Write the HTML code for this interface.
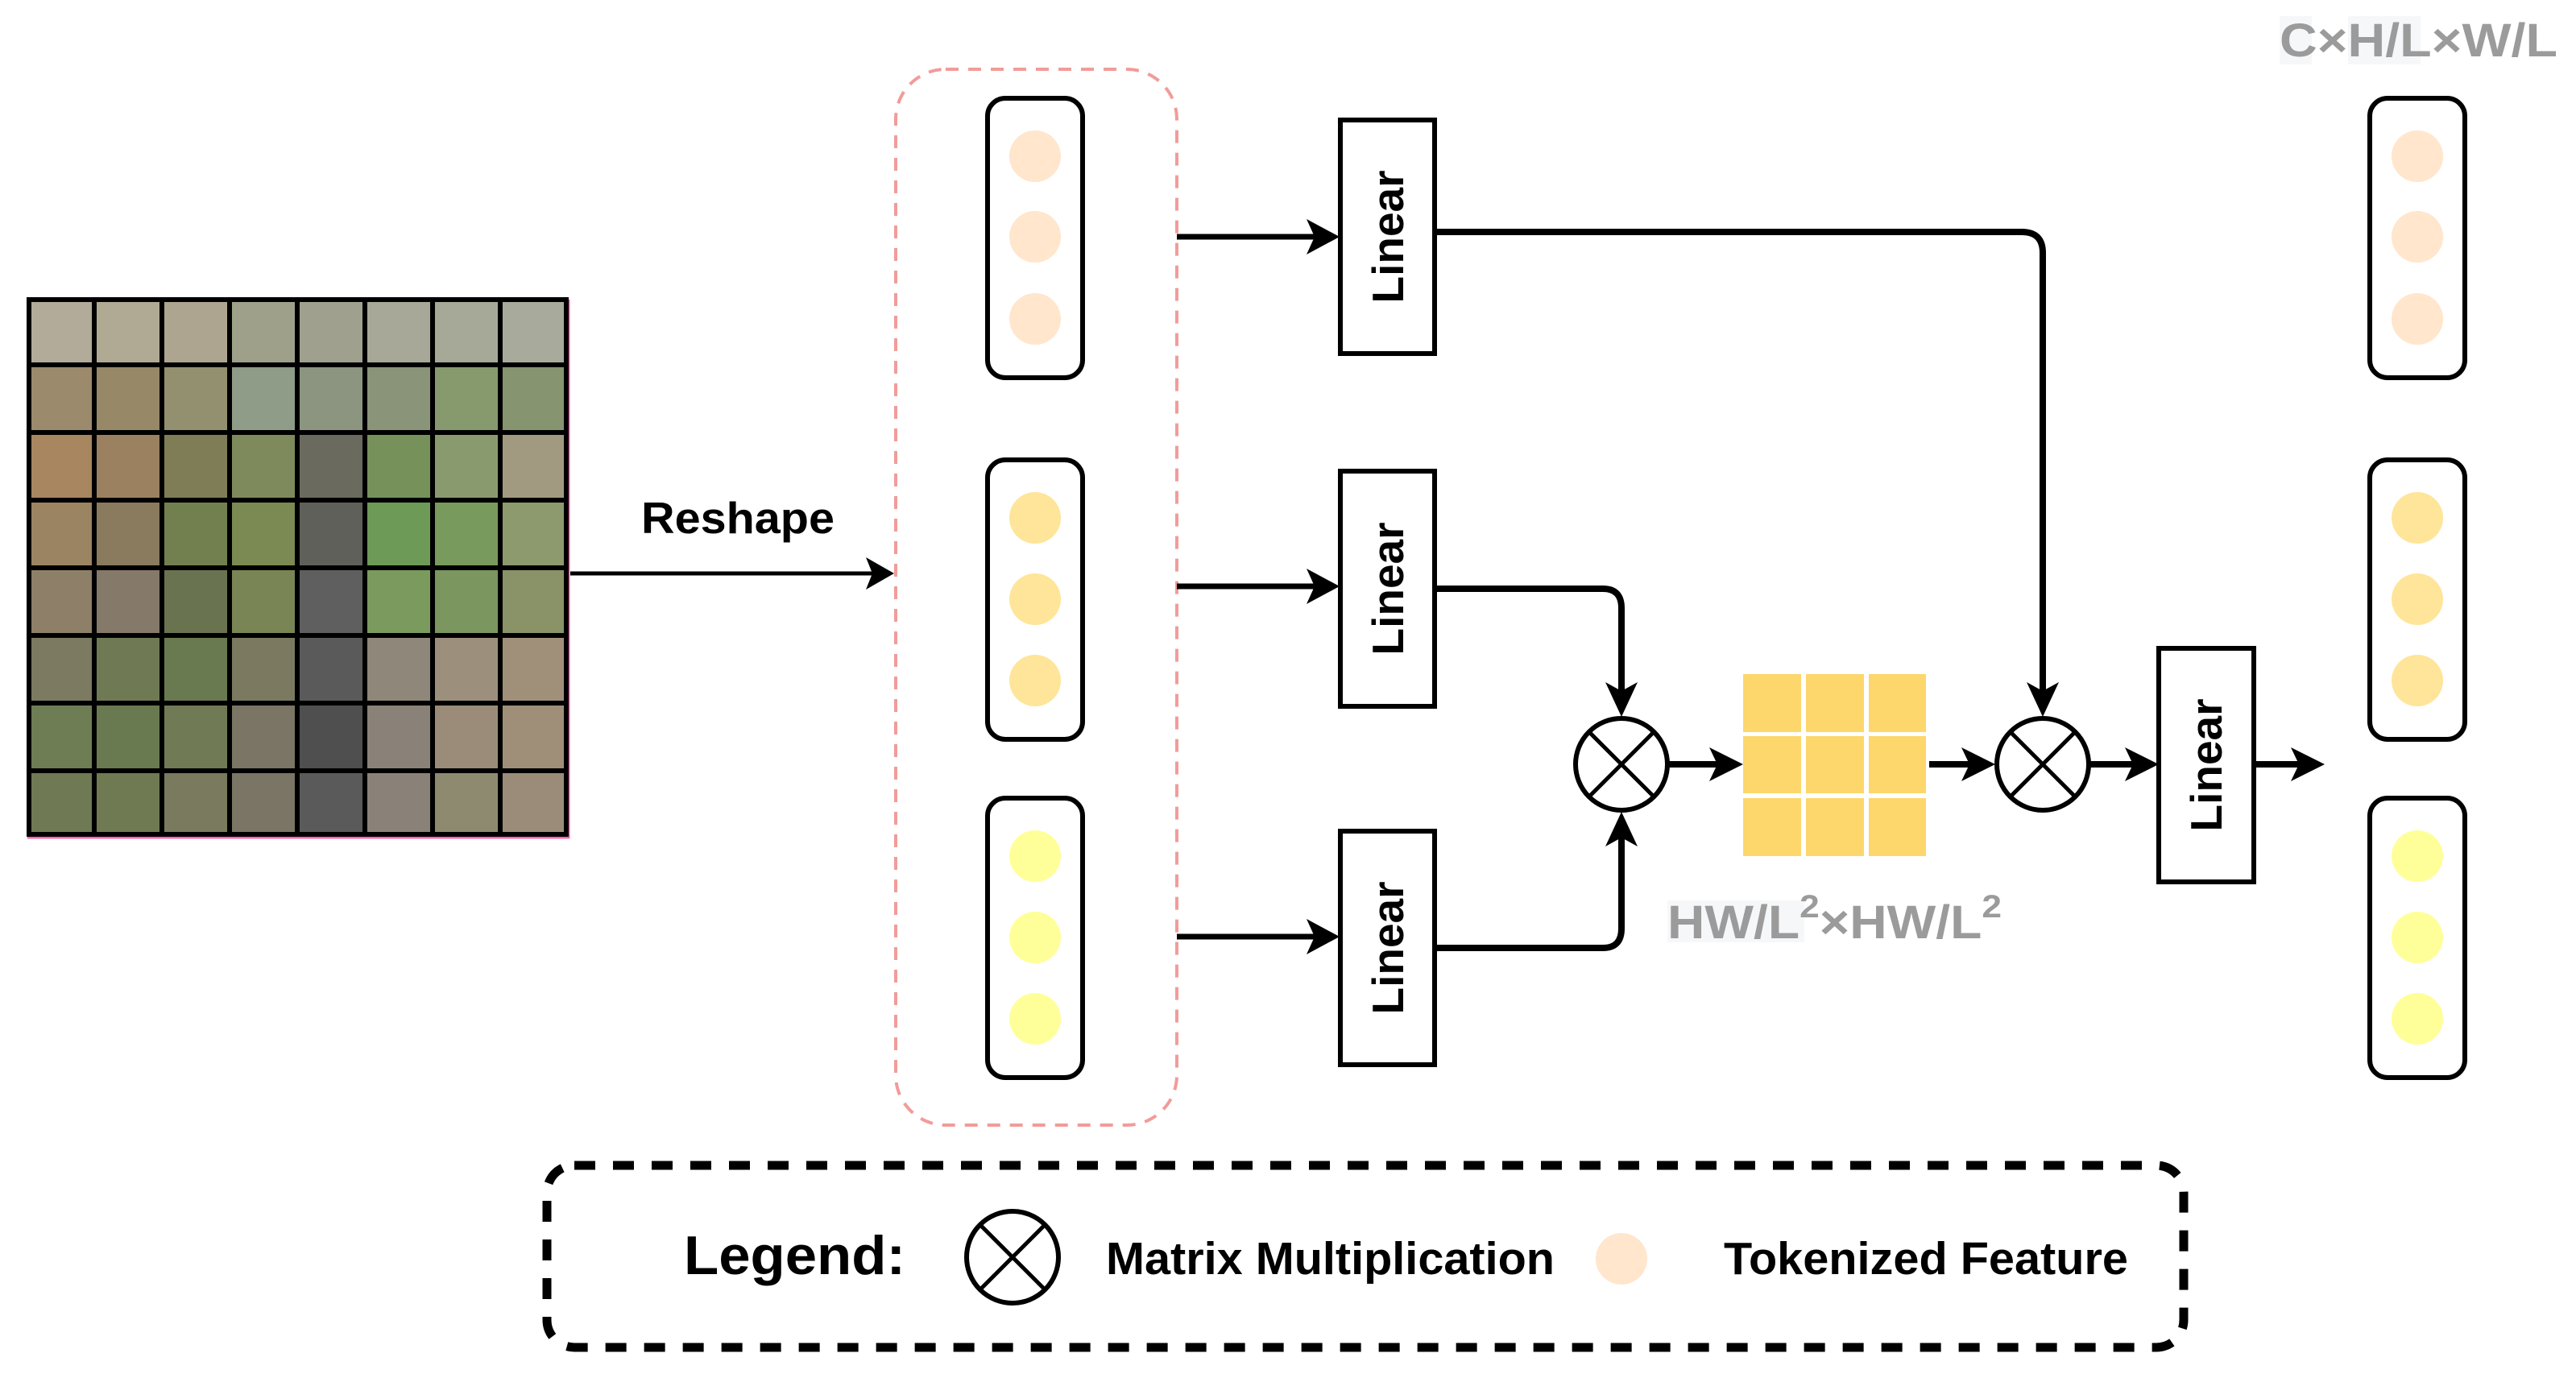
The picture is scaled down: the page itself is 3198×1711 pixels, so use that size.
<!DOCTYPE html>
<html><head><meta charset="utf-8"><style>
html,body{margin:0;padding:0;background:#fff;}
svg{display:block;}
text{font-family:"Liberation Sans",Arial,sans-serif;font-weight:bold;}
</style></head><body>
<svg width="3198" height="1711" viewBox="0 0 3198 1711" xmlns="http://www.w3.org/2000/svg">
<!-- photo -->
<g>
<rect x="33" y="369" width="673" height="670" fill="#8a8268"/>
<g>
<rect x="33" y="369" width="84" height="84" fill="#b2ab9a"/><rect x="117" y="369" width="84" height="84" fill="#b0a994"/><rect x="201" y="369" width="84" height="84" fill="#aea590"/><rect x="285" y="369" width="84" height="84" fill="#9ea08a"/><rect x="369" y="369" width="84" height="84" fill="#9fa18e"/><rect x="453" y="369" width="84" height="84" fill="#a7a898"/><rect x="537" y="369" width="84" height="84" fill="#a6a898"/><rect x="621" y="369" width="85" height="84" fill="#a8aa9c"/>
<rect x="33" y="453" width="84" height="84" fill="#9c8a6c"/><rect x="117" y="453" width="84" height="84" fill="#978868"/><rect x="201" y="453" width="84" height="84" fill="#93906f"/><rect x="285" y="453" width="84" height="84" fill="#8e9c88"/><rect x="369" y="453" width="84" height="84" fill="#8c9580"/><rect x="453" y="453" width="84" height="84" fill="#8a9478"/><rect x="537" y="453" width="84" height="84" fill="#879a6d"/><rect x="621" y="453" width="85" height="84" fill="#869470"/>
<rect x="33" y="537" width="84" height="84" fill="#a88660"/><rect x="117" y="537" width="84" height="84" fill="#9b8160"/><rect x="201" y="537" width="84" height="84" fill="#7f7d55"/><rect x="285" y="537" width="84" height="84" fill="#7f8a5c"/><rect x="369" y="537" width="84" height="84" fill="#6b6a5e"/><rect x="453" y="537" width="84" height="84" fill="#76925a"/><rect x="537" y="537" width="84" height="84" fill="#899a6f"/><rect x="621" y="537" width="85" height="84" fill="#a29a80"/>
<rect x="33" y="621" width="84" height="84" fill="#9a8462"/><rect x="117" y="621" width="84" height="84" fill="#8a7a5e"/><rect x="201" y="621" width="84" height="84" fill="#72804f"/><rect x="285" y="621" width="84" height="84" fill="#7a8a52"/><rect x="369" y="621" width="84" height="84" fill="#5f605a"/><rect x="453" y="621" width="84" height="84" fill="#6e9a58"/><rect x="537" y="621" width="84" height="84" fill="#789a5c"/><rect x="621" y="621" width="85" height="84" fill="#8c9a6e"/>
<rect x="33" y="705" width="84" height="84" fill="#8e8068"/><rect x="117" y="705" width="84" height="84" fill="#85796a"/><rect x="201" y="705" width="84" height="84" fill="#6a7350"/><rect x="285" y="705" width="84" height="84" fill="#7a8555"/><rect x="369" y="705" width="84" height="84" fill="#5e5f5e"/><rect x="453" y="705" width="84" height="84" fill="#7a9a5e"/><rect x="537" y="705" width="84" height="84" fill="#7b965e"/><rect x="621" y="705" width="85" height="84" fill="#8a9268"/>
<rect x="33" y="789" width="84" height="84" fill="#7d7a62"/><rect x="117" y="789" width="84" height="84" fill="#6f7a55"/><rect x="201" y="789" width="84" height="84" fill="#6a7a50"/><rect x="285" y="789" width="84" height="84" fill="#7b7a60"/><rect x="369" y="789" width="84" height="84" fill="#5a5a5a"/><rect x="453" y="789" width="84" height="84" fill="#8e877a"/><rect x="537" y="789" width="84" height="84" fill="#9c8f7c"/><rect x="621" y="789" width="85" height="84" fill="#a0907a"/>
<rect x="33" y="873" width="84" height="84" fill="#6f7d55"/><rect x="117" y="873" width="84" height="84" fill="#6a7a50"/><rect x="201" y="873" width="84" height="84" fill="#707a55"/><rect x="285" y="873" width="84" height="84" fill="#7a7565"/><rect x="369" y="873" width="84" height="84" fill="#4f4f50"/><rect x="453" y="873" width="84" height="84" fill="#8a8278"/><rect x="537" y="873" width="84" height="84" fill="#9a8c78"/><rect x="621" y="873" width="85" height="84" fill="#a08f78"/>
<rect x="33" y="957" width="84" height="82" fill="#6f7a55"/><rect x="117" y="957" width="84" height="82" fill="#6f7a52"/><rect x="201" y="957" width="84" height="82" fill="#7a7a5e"/><rect x="285" y="957" width="84" height="82" fill="#7a7565"/><rect x="369" y="957" width="84" height="82" fill="#5a5a5a"/><rect x="453" y="957" width="84" height="82" fill="#8a8278"/><rect x="537" y="957" width="84" height="82" fill="#8e8a70"/><rect x="621" y="957" width="85" height="82" fill="#9a8c78"/>
</g>
<line x1="706" y1="372" x2="706" y2="1041" stroke="#ff66b3" stroke-width="3"/>
<line x1="34" y1="1040" x2="707" y2="1040" stroke="#ff66b3" stroke-width="3"/>
<g stroke="#000" stroke-width="6">
<rect x="36" y="372" width="667" height="664" fill="none"/>
<line x1="117" y1="369" x2="117" y2="1039"/><line x1="201" y1="369" x2="201" y2="1039"/><line x1="285" y1="369" x2="285" y2="1039"/><line x1="369" y1="369" x2="369" y2="1039"/><line x1="453" y1="369" x2="453" y2="1039"/><line x1="537" y1="369" x2="537" y2="1039"/><line x1="621" y1="369" x2="621" y2="1039"/>
<line x1="33" y1="453" x2="706" y2="453"/><line x1="33" y1="537" x2="706" y2="537"/><line x1="33" y1="621" x2="706" y2="621"/><line x1="33" y1="705" x2="706" y2="705"/><line x1="33" y1="789" x2="706" y2="789"/><line x1="33" y1="873" x2="706" y2="873"/><line x1="33" y1="957" x2="706" y2="957"/>
</g>
</g>

<text x="796" y="662" font-size="55" textLength="240" lengthAdjust="spacingAndGlyphs" fill="#000">Reshape</text>
<line x1="708" y1="712" x2="1085" y2="712" stroke="#000" stroke-width="5"/>
<polygon points="1110,712 1075,692 1083,712 1075,732" fill="#000"/>

<rect x="1112" y="86" width="349" height="1311" rx="62" fill="none" stroke="#f19c99" stroke-width="4" stroke-dasharray="16,12"/>

<g stroke="#000" stroke-width="6" fill="#fff">
<rect x="1226" y="122" width="118" height="347" rx="22"/>
<rect x="1226" y="571" width="118" height="347" rx="22"/>
<rect x="1226" y="991" width="118" height="347" rx="22"/>
<rect x="2942" y="122" width="118" height="347" rx="22"/>
<rect x="2942" y="571" width="118" height="347" rx="22"/>
<rect x="2942" y="991" width="118" height="347" rx="22"/>
</g>
<g fill="#ffe6cc">
<circle cx="1285" cy="194" r="32"/><circle cx="1285" cy="294" r="32"/><circle cx="1285" cy="396" r="32"/>
<circle cx="3001" cy="194" r="32"/><circle cx="3001" cy="294" r="32"/><circle cx="3001" cy="396" r="32"/>
</g>
<g fill="#ffe599">
<circle cx="1285" cy="643" r="32"/><circle cx="1285" cy="744" r="32"/><circle cx="1285" cy="845" r="32"/>
<circle cx="3001" cy="643" r="32"/><circle cx="3001" cy="744" r="32"/><circle cx="3001" cy="845" r="32"/>
</g>
<g fill="#ffff99">
<circle cx="1285" cy="1063" r="32"/><circle cx="1285" cy="1164" r="32"/><circle cx="1285" cy="1265" r="32"/>
<circle cx="3001" cy="1063" r="32"/><circle cx="3001" cy="1164" r="32"/><circle cx="3001" cy="1265" r="32"/>
</g>

<g stroke="#000" stroke-width="7">
<line x1="1461" y1="294" x2="1640" y2="294"/>
<line x1="1461" y1="728" x2="1640" y2="728"/>
<line x1="1461" y1="1163" x2="1640" y2="1163"/>
</g>
<g fill="#000">
<polygon points="1663,294 1622,272 1632,294 1622,316"/>
<polygon points="1663,728 1622,706 1632,728 1622,750"/>
<polygon points="1663,1163 1622,1141 1632,1163 1622,1185"/>
</g>

<g stroke="#000" stroke-width="6" fill="#fff">
<rect x="1664" y="149" width="117" height="290"/>
<rect x="1664" y="585" width="117" height="292"/>
<rect x="1664" y="1032" width="117" height="290"/>
<rect x="2680" y="805" width="118" height="290"/>
</g>
<g font-size="55" fill="#000" text-anchor="middle">
<text transform="translate(1742,294) rotate(-90)">Linear</text>
<text transform="translate(1742,731) rotate(-90)">Linear</text>
<text transform="translate(1742,1177) rotate(-90)">Linear</text>
<text transform="translate(2758,950) rotate(-90)">Linear</text>
</g>

<g stroke="#000" stroke-width="8" fill="none">
<path d="M1781,288 H2510 Q2536,288 2536,314 V870"/>
<path d="M1781,731 H1990 Q2013,731 2013,755 V870"/>
<path d="M1781,1177 H1990 Q2013,1177 2013,1153 V1030"/>
<line x1="2072" y1="949" x2="2140" y2="949"/>
<line x1="2395" y1="949" x2="2455" y2="949"/>
<line x1="2595" y1="949" x2="2655" y2="949"/>
<line x1="2798" y1="949" x2="2862" y2="949"/>
</g>
<g fill="#000">
<polygon points="2013,890 1993,847 2013,858 2033,847"/>
<polygon points="2536,890 2516,847 2536,858 2556,847"/>
<polygon points="2013,1008 1993,1051 2013,1040 2033,1051"/>
<polygon points="2164,949 2122,928 2132,949 2122,970"/>
<polygon points="2477,949 2435,928 2445,949 2435,970"/>
<polygon points="2680,949 2638,928 2648,949 2638,970"/>
<polygon points="2886,949 2844,928 2854,949 2844,970"/>
</g>

<g stroke="#000" stroke-width="6" fill="#fff">
<circle cx="2013" cy="949" r="57"/>
<circle cx="2536" cy="949" r="57"/>
<circle cx="1257" cy="1561" r="57"/>
</g>
<g stroke="#000" stroke-width="5">
<line x1="1973" y1="909" x2="2053" y2="989"/><line x1="2053" y1="909" x2="1973" y2="989"/>
<line x1="2496" y1="909" x2="2576" y2="989"/><line x1="2576" y1="909" x2="2496" y2="989"/>
<line x1="1217" y1="1521" x2="1297" y2="1601"/><line x1="1297" y1="1521" x2="1217" y2="1601"/>
</g>

<g fill="#fdd76b">
<rect x="2164" y="837" width="72" height="72"/><rect x="2242" y="837" width="72" height="72"/><rect x="2320" y="837" width="71" height="72"/>
<rect x="2164" y="914" width="72" height="71"/><rect x="2242" y="914" width="72" height="71"/><rect x="2320" y="914" width="71" height="71"/>
<rect x="2164" y="991" width="72" height="72"/><rect x="2242" y="991" width="72" height="72"/><rect x="2320" y="991" width="71" height="72"/>
</g>

<rect x="2070" y="1118" width="170" height="52" fill="#f6f7f9"/>
<text x="2070" y="1165" font-size="58" fill="#9b9b9b" textLength="415" lengthAdjust="spacingAndGlyphs">HW/L<tspan dy="-26" font-size="40">2</tspan><tspan dy="26">×HW/L</tspan><tspan dy="-26" font-size="40">2</tspan></text>
<rect x="2830" y="20" width="40" height="60" fill="#f6f7f9"/>
<rect x="2915" y="20" width="90" height="60" fill="#f6f7f9"/>
<text x="2830" y="70" font-size="58" fill="#9b9b9b" textLength="345" lengthAdjust="spacingAndGlyphs">C×H/L×W/L</text>

<rect x="679" y="1447" width="2032" height="226" rx="34" fill="none" stroke="#000" stroke-width="11" stroke-dasharray="26,22"/>
<text x="849" y="1582" font-size="68" fill="#000" textLength="275" lengthAdjust="spacingAndGlyphs">Legend:</text>
<text x="1373" y="1582" font-size="57" fill="#000" textLength="557" lengthAdjust="spacingAndGlyphs">Matrix Multiplication</text>
<circle cx="2013" cy="1563" r="32" fill="#ffe6cc"/>
<text x="2140" y="1582" font-size="57" fill="#000" textLength="502" lengthAdjust="spacingAndGlyphs">Tokenized Feature</text>
</svg>
</body></html>
